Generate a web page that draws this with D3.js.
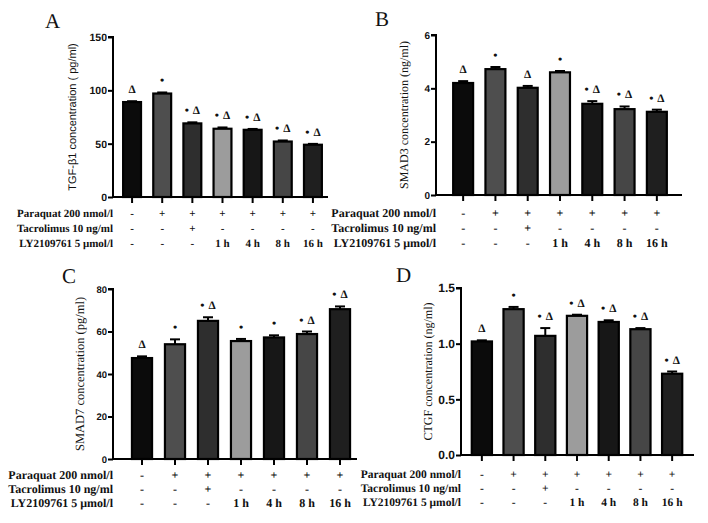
<!DOCTYPE html>
<html><head><meta charset="utf-8">
<script src="https://cdn.jsdelivr.net/npm/d3@7"></script>
<style>body{margin:0;background:#fff}svg{display:block}text{text-rendering:geometricPrecision}</style>
</head><body>
<svg id="c" width="708" height="523"></svg>
<script>
// ---- data ----
const groups = ["g1","g2","g3","g4","g5","g6","g7"];
const paraquatRow = ["-","+","+","+","+","+","+"];
const tacrolimusRow = ["-","-","+","-","-","-","-"];
const lyRow = ["-","-","-","1 h","4 h","8 h","16 h"];
const rowLabels = ["Paraquat 200 nmol/l","Tacrolimus 10 ng/ml","LY2109761 5 \u03bcmol/l"];
const barColors = ["#0b0b0b","#4e4e4e","#2e2e2e","#9c9c9c","#171717","#464646","#1f1f1f"];

const tgfValues = [89, 97, 69, 64, 63, 52, 49];
const tgfErrors = [0.8, 1, 1, 1.2, 0.8, 1, 0.8];
const tgfMarks = ["\u0394","\u2022","\u2022 \u0394","\u2022 \u0394","\u2022 \u0394","\u2022 \u0394","\u2022 \u0394"];
const tgfTicks = [0, 50, 100, 150];

const smad3Values = [4.2, 4.72, 4.02, 4.6, 3.42, 3.22, 3.12];
const smad3Errors = [0.07, 0.08, 0.07, 0.05, 0.1, 0.1, 0.08];
const smad3Marks = ["\u0394","\u2022","\u0394","\u2022","\u2022 \u0394","\u2022 \u0394","\u2022 \u0394"];
const smad3Ticks = [0, 2, 4, 6];

const smad7Values = [47.5, 54, 65, 55.5, 57.2, 58.8, 70.5];
const smad7Errors = [0.8, 2.3, 1.7, 1, 1, 1.2, 1.3];
const smad7Marks = ["\u0394","\u2022","\u2022 \u0394","\u2022","\u2022","\u2022 \u0394","\u2022 \u0394"];
const smad7Ticks = [0, 20, 40, 60, 80];

const ctgfValues = [1.02, 1.31, 1.07, 1.25, 1.195, 1.13, 0.73];
const ctgfErrors = [0.01, 0.02, 0.07, 0.01, 0.015, 0.01, 0.02];
const ctgfMarks = ["\u0394","\u2022","\u2022 \u0394","\u2022 \u0394","\u2022 \u0394","\u2022 \u0394","\u2022 \u0394"];
const ctgfTicks = [0, 0.5, 1.0, 1.5];

// ---- drawing ----
const svg = d3.select("#c");
const SERIF = "'Liberation Serif','Times New Roman',serif";
const SANS = "'Liberation Sans',Arial,sans-serif";

function panel(o) {
  const g = svg.append("g");
  if (o.clip) {
    svg.append("clipPath").attr("id", o.clip.id).append("rect")
      .attr("x", 0).attr("y", 0).attr("width", o.clip.w).attr("height", 523);
    g.attr("clip-path", `url(#${o.clip.id})`);
  }
  const x = d3.scaleBand().domain(groups).range(o.xr).paddingInner(o.pad).paddingOuter(o.pad/2);
  const y = d3.scaleLinear().domain(o.ydom).range(o.yr);

  // bars
  g.selectAll("rect.bar").data(o.values).join("rect")
    .attr("x", (d,i) => x(groups[i]) + 1)
    .attr("width", x.bandwidth() - 2)
    .attr("y", d => y(d))
    .attr("height", d => y(0) - y(d))
    .attr("fill", (d,i) => barColors[i])
    .attr("stroke", "#000").attr("stroke-width", 2.2);

  // error bars (upper) + significance marks
  o.values.forEach((v,i) => {
    const cx = x(groups[i]) + x.bandwidth()/2;
    const top = y(v + o.errors[i]);
    g.append("line").attr("x1", cx).attr("x2", cx).attr("y1", y(v)).attr("y2", top)
      .attr("stroke", "#000").attr("stroke-width", 2);
    g.append("line").attr("x1", cx - 5).attr("x2", cx + 5).attr("y1", top).attr("y2", top)
      .attr("stroke", "#000").attr("stroke-width", 2);
    const parts = o.marks[i].split(" ");
    const t = g.append("text").attr("x", cx).attr("y", top - 8)
      .attr("text-anchor", "middle").attr("font-family", SERIF).attr("font-weight", "bold")
      .attr("fill", "#111");
    parts.forEach((p, pi) => {
      t.append("tspan").attr("dx", pi ? 4 : 0)
        .attr("font-size", p === "\u2022" ? 12 : 11.5).text(p);
    });
  });

  // y axis
  const ya = g.append("g").attr("transform", `translate(${o.ax},0)`)
    .call(d3.axisLeft(y).tickValues(o.ticks).tickFormat(o.fmt).tickSize(5).tickPadding(1));
  ya.select(".domain").attr("stroke-width", 2).attr("d", `M-5,${o.yr[1]}H0V${o.yr[0]}`);
  ya.selectAll(".tick line").attr("stroke-width", 2);
  ya.selectAll("text").attr("font-family", SANS).attr("font-weight", "bold")
    .attr("font-size", o.tickSize).attr("fill", "#111");

  // x axis
  const xa = g.append("g").attr("transform", `translate(0,${o.yr[0]})`)
    .call(d3.axisBottom(x).tickSize(6).tickFormat(""));
  xa.select(".domain").attr("stroke-width", 2).attr("d", `M${o.ax},0H${o.xend}`);
  xa.selectAll(".tick line").attr("stroke-width", 2);

  // condition rows
  const rows = [paraquatRow, tacrolimusRow, lyRow];
  rows.forEach((r, ri) => {
    g.append("text").attr("x", o.ax).attr("y", o.rowY[ri]).attr("text-anchor", "end")
      .attr("font-family", SERIF).attr("font-size", o.rowSize).attr("font-weight", "bold")
      .attr("fill", "#111").text(rowLabels[ri]);
    r.forEach((s, i) => {
      g.append("text").attr("x", x(groups[i]) + x.bandwidth()/2).attr("y", o.rowY[ri])
        .attr("text-anchor", "middle").attr("font-family", SERIF).attr("font-weight", "bold")
        .attr("font-size", o.rowSize).attr("fill", "#111").text(s);
    });
  });

  // y title
  g.append("text").attr("transform", `translate(${o.titleX},${(o.yr[0]+o.yr[1])/2}) rotate(-90)`)
    .attr("text-anchor", "middle").attr("font-family", o.titleFont).attr("font-size", o.titleSize)
    .attr("fill", "#111").text(o.title);

  // panel letter
  svg.append("text").attr("x", o.letterPos[0]).attr("y", o.letterPos[1])
    .attr("font-family", SERIF).attr("font-size", 21).attr("fill", "#111").text(o.letter);
}

panel({letter:"A", letterPos:[45,28], values:tgfValues, errors:tgfErrors, marks:tgfMarks,
  ticks:tgfTicks, fmt:d3.format("d"), ydom:[0,150], yr:[197,37], xr:[117,328], pad:0.34,
  ax:113, xend:328, tickSize:10.5, rowY:[217,232,247], rowSize:11,
  title:"TGF-\u03b21 concentration ( pg/ml)", titleX:76, titleFont:SANS, titleSize:11,
  clip:{id:"clipA", w:330}});

panel({letter:"B", letterPos:[375,26], values:smad3Values, errors:smad3Errors, marks:smad3Marks,
  ticks:smad3Ticks, fmt:d3.format("d"), ydom:[0,6], yr:[195,35], xr:[447,673], pad:0.32,
  ax:436, xend:682, tickSize:10, rowY:[217,232,247], rowSize:12,
  title:"SMAD3 concentration  (ng/ml)", titleX:408, titleFont:SERIF, titleSize:12});

panel({letter:"C", letterPos:[62,283], values:smad7Values, errors:smad7Errors, marks:smad7Marks,
  ticks:smad7Ticks, fmt:d3.format("d"), ydom:[0,80], yr:[459,289], xr:[125.5,356.5], pad:0.33,
  ax:113, xend:357, tickSize:9.5, rowY:[479,493,507], rowSize:12,
  title:"SMAD7 concentration (pg/ml)", titleX:84, titleFont:SERIF, titleSize:12.5});

panel({letter:"D", letterPos:[396,282], values:ctgfValues, errors:ctgfErrors, marks:ctgfMarks,
  ticks:ctgfTicks, fmt:d3.format(".1f"), ydom:[0,1.5], yr:[455,288], xr:[466,688], pad:0.3,
  ax:461, xend:694, tickSize:12, rowY:[478,492,506], rowSize:11.5,
  title:"CTGF concentration (ng/ml)", titleX:432, titleFont:SERIF, titleSize:12});
</script>
</body></html>
